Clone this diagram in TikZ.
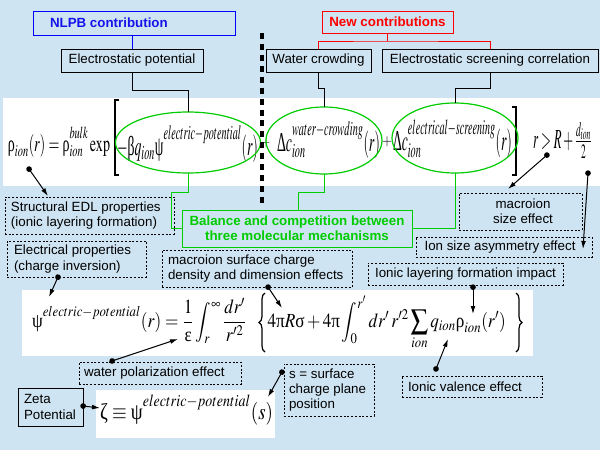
\documentclass[tikz,border=0pt]{standalone}
\usepackage{mathptmx}
\usepackage[no-math]{fontspec}
\setmainfont{Liberation Sans}
\newfontfamily\serifgr{Liberation Serif}
\usetikzlibrary{arrows.meta,calc,shapes.geometric,decorations.pathreplacing}
\definecolor{bgblue}{RGB}{207,228,242}
\definecolor{grn}{RGB}{0,204,0}
\definecolor{nblue}{RGB}{20,20,235}
\newcommand\G[1]{\mbox{\serifgr #1}}
\newcommand\eqbox[3]{\resizebox*{#1}{#2}{$\displaystyle #3$}}
\newcommand\sups[1]{\raisebox{2pt}{$\scriptstyle #1$}}
\begin{document}
\begin{tikzpicture}[x=0.75pt,y=-0.75pt,
  every node/.style={inner sep=0pt, outer sep=0pt},
  sz/.style 2 args={minimum width=#1*0.75pt, minimum height=#2*0.75pt},
  txt/.style={font=\fontsize{10}{11.5}\selectfont, text=black, align=left},
  sbox/.style={draw=black, line width=0.75pt, fill=bgblue, font=\fontsize{10}{11.5}\selectfont, align=center},
  dbox/.style={draw=black, line width=0.75pt, dash pattern=on 1.5pt off 1.3pt, font=\fontsize{10}{11.5}\selectfont, align=center},
  bfont/.style={font=\bfseries\fontsize{10}{11.5}\selectfont},
  eqn/.style={anchor=west, inner sep=0pt, font=\fontsize{14}{16}\selectfont},
  conn/.style={line width=0.75pt},
  pin/.style={line width=0.75pt, shorten <=-2pt, {Circle[length=4.2pt]}-{Latex[length=6pt,width=3.6pt]}},
  ell/.style={ellipse, draw=grn, line width=0.9pt},
  curly/.style={line width=0.9pt, decorate, decoration={brace, amplitude=4.5pt, aspect=0.5}},
]
\fill[bgblue] (0,0) rectangle (600,450);
\useasboundingbox (0,0) rectangle (600,450);
% white equation areas
\fill[white] (3,98) rectangle (600,186);
\fill[white] (22,290) rectangle (533,356);
\fill[white] (96,390) rectangle (275,438);

% equation 1
\node[eqn] (eqA) at (8,142) {\eqbox{76.5pt}{22.5pt}{\G{ρ}_{ion}(r)=\G{ρ}^{\sups{bulk}}_{ion}\exp}};
\node[eqn] (eqT1) at (117,144) {\eqbox{105.75pt}{27pt}{-\G{β}q_{ion}\G{ψ}^{\sups{electric-potential}}(r)}};
\node[eqn] (pl1) at (262,143) {\eqbox{6pt}{6.5pt}{+}};
\node[eqn] (eqT2) at (277,140) {\eqbox{77.25pt}{27pt}{\G{Δ}c^{\sups{water-crowding}}_{ion}(r)}};
\node[eqn] (pl2) at (382,142) {\eqbox{7.5pt}{7.5pt}{+}};
\node[eqn] (eqT3) at (393,139) {\eqbox{89.25pt}{28.5pt}{\G{Δ}c^{\sups{electrical-screening}}_{ion}(r)}};
\node[eqn] (eqR) at (533,140) {\eqbox{44.25pt}{27pt}{r>R+{\textstyle\frac{d_{ion}}{2}}}};
\draw[line width=0.9pt] (119,100) -- (115,100) -- (115,175) -- (119,175);
\draw[line width=0.9pt] (512,107) -- (516,107) -- (516,175) -- (512,175);

% equation 2 (braces drawn as paths)
\node[eqn] (eq2) at (32,322.5) {\eqbox{368.25pt}{45pt}{\G{ψ}^{\sups{electric-potential}}(r)=\frac{1}{\G{ε}}\int_r^{\infty}\frac{dr'}{r'^2}\mkern22mu\vphantom{\left\{\sum_{ion}\int_0^{r'}\right\}}4\G{π}R\G{σ}+4\G{π}\int_0^{r'}dr'\,r'^2\sum_{ion}q_{ion}\G{ρ}_{ion}(r')\mkern18mu}};
\coordinate (lbB) at (265,352); \coordinate (lbT) at (265,293);
\coordinate (rbT) at (516,293); \coordinate (rbB) at (516,352);
\draw[curly] (lbB) -- (lbT);
\draw[curly] (rbT) -- (rbB);
% equation 3
\node[eqn] (eq3) at (100,410) {\eqbox{129.75pt}{22.5pt}{\G{ζ}\equiv\G{ψ}^{\sups{electric-potential}}(s)}};

% ellipses
\node[ell, minimum width=108.75pt, minimum height=45.75pt] (e1) at (188,142.5) {};
\node[ell, minimum width=87pt, minimum height=50.25pt] (e2) at (324,140.5) {};
\node[ell, minimum width=94.5pt, minimum height=52.5pt] (e3) at (455,138) {};

% top boxes
\node[sbox, draw=blue, sz={202}{24}] (nlpb) at (134,23) {};
\node[anchor=west, bfont, text=nblue] (nlpbt) at (50,23) {NLPB contribution};
\node[sbox, sz={142}{23}] (ep) at (132,60.5) {Electrostatic potential};
\node[sbox, draw=red, text=red, bfont, sz={131}{22}] (nc) at (387.5,22) {New contributions};
\node[sbox, sz={105}{23}] (wc) at (318.5,60.5) {Water crowding};
\node[sbox, sz={216}{23}] (esc) at (490,60.5) {Electrostatic screening correlation};

% connectors
\draw[conn, blue] (nlpb.south -| ep.north) -- (ep.north);
\draw[conn, red] (nc.south) -- ++(0,8);
\draw[conn, red] (wc.north) |- ($(nc.south)+(0,8)$) -| (esc.north);
\draw[conn] (ep.south) |- ($(e1.north)+(0,-22)$) -- (e1.north);
\draw[conn] (wc.south) |- ($(e2.north)+(0,-19)$) -- (e2.north);
\draw[conn] (esc.south) |- ($(e3.north)+(0,-15)$) -- (e3.north);

% balance box
\node[sbox, draw=grn, text=grn, bfont, sz={230}{37}] (bal) at (297,228.5) {Balance and competition between\\three molecular mechanisms};
\draw[conn, grn] (e1.south) |- (171,192) |- (bal.west);
\draw[conn, grn] (e2.south) |- (298,192) -- (298,192 |- bal.north);
\draw[conn, grn] (e3.south) |- (bal.east);

% thick dashed separator
\coordinate (sepT) at (262,33);
\coordinate (sepB) at (262,205);
\draw[line width=2.3pt, dash pattern=on 4.5pt off 3.7pt] (sepT) -- (sepB);

% annotation boxes
\node[dbox, sz={169}{37}] (sedl) at (89.5,215.5) {};
\node[txt, anchor=west] (sedlt) at (11,215.5) {Structural EDL properties\\(ionic layering formation)};
\node[dbox, sz={139}{36}] (elp) at (76.5,259) {};
\node[txt, anchor=west] (elpt) at (14,259) {Electrical properties\\(charge inversion)};
\node[dbox, sz={190}{37}] (msc) at (257,268.5) {};
\node[txt, anchor=west] (msct) at (168,268.5) {macroion surface charge\\density and dimension effects};
\node[dbox, sz={123}{37}] (mse) at (520.5,211.5) {};
\node[txt, align=center] (mset) at (523,211.5) {macroion\\size effect};
\node[dbox, sz={176}{20}] (isa) at (504,247) {};
\node[txt] (isat) at (500,247) {Ion size asymmetry effect};
\node[dbox, sz={195}{22}] (ilf) at (465.5,274) {Ionic layering formation impact};
\node[dbox, sz={162}{22}] (wpe) at (160,373) {};
\node[txt, anchor=west] (wpet) at (84,373) {water polarization effect};
\node[dbox, sz={140}{21}] (ive) at (472,386.5) {};
\node[txt, anchor=west] (ivet) at (408,386.5) {Ionic valence effect};
\node[dbox, sz={90}{52}] (sbx) at (329,390) {};
\node[txt, anchor=west] (sbxt) at (289,390) {s = surface\\charge plane\\position};
\node[sbox, sz={65}{38}] (zeta) at (50.5,407) {};
\node[txt, anchor=west] (zetat) at (24,407) {Zeta\\Potential};

% pointer arrows
\coordinate (p1) at (29,169);   \coordinate (q1) at (48,196);
\coordinate (p2) at (58,277);   \coordinate (q2) at (49,297);
\coordinate (p3) at (547,155);  \coordinate (q3) at (508,189);
\coordinate (p4) at (588,173);  \coordinate (q4) at (583,249);
\coordinate (p5) at (268,287);  \coordinate (q5) at (282,308);
\coordinate (p6) at (473,287);  \coordinate (q6) at (473,314);
\coordinate (p7) at (112,361);  \coordinate (q7) at (178,339);
\coordinate (p8) at (436,369);  \coordinate (q8) at (448,339);
\coordinate (p9) at (83,406);   \coordinate (q9) at (100,408);
\coordinate (p10) at (282,372); \coordinate (q10) at (268,397);
\foreach \i in {1,...,10} {\draw[pin] (p\i) -- (q\i);}
\end{tikzpicture}
\end{document}
